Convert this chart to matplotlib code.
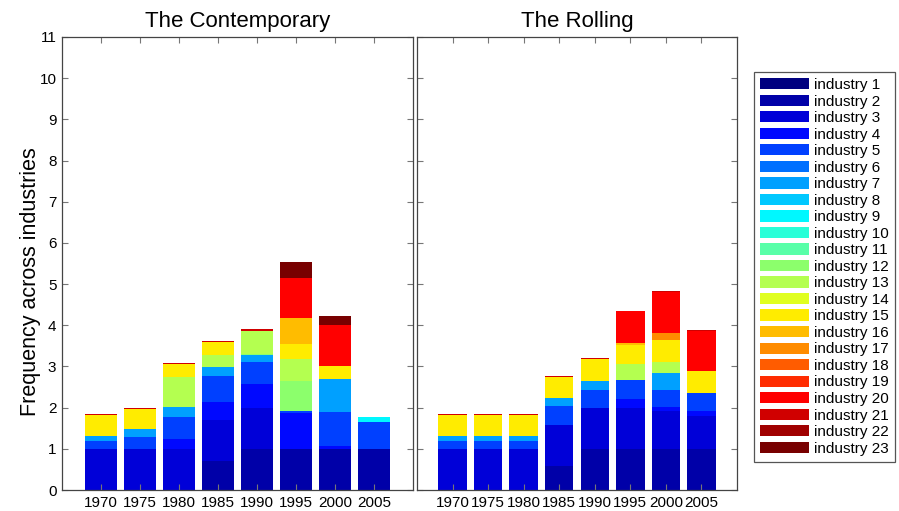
import numpy as np
import matplotlib
matplotlib.use('Agg')
import matplotlib.pyplot as plt
from matplotlib.patches import Patch

plt.rcParams['font.family'] = ['Liberation Sans', 'DejaVu Sans']

years = ['1970', '1975', '1980', '1985', '1990', '1995', '2000', '2005']
industries = ['industry %d' % i for i in range(1, 24)]

# rows = industry 1..23, columns = years
contemporary = [
    [0, 0, 0, 0, 0, 0, 0, 0],                          # 1
    [0, 0, 0, 0.70, 1.0, 1.0, 1.0, 1.0],               # 2
    [1.0, 1.0, 1.0, 1.0, 1.0, 0, 0, 0],                # 3
    [0, 0, 0.24, 0.43, 0.58, 0.87, 0.08, 0],           # 4
    [0.20, 0.28, 0.53, 0.63, 0.52, 0.05, 0.81, 0.64],  # 5
    [0, 0, 0, 0, 0, 0, 0, 0],                          # 6
    [0.10, 0.19, 0.25, 0.22, 0.19, 0, 0.80, 0],        # 7
    [0, 0, 0, 0, 0, 0, 0, 0],                          # 8
    [0, 0, 0, 0, 0, 0, 0, 0.14],                       # 9
    [0, 0, 0, 0, 0, 0, 0, 0],                          # 10
    [0, 0, 0, 0, 0, 0, 0, 0],                          # 11
    [0.02, 0, 0, 0, 0.02, 0.73, 0, 0],                 # 12
    [0, 0, 0.73, 0.31, 0.56, 0.53, 0, 0],              # 13
    [0, 0, 0, 0, 0, 0, 0, 0],                          # 14
    [0.50, 0.49, 0.31, 0.30, 0, 0.37, 0.31, 0],        # 15
    [0, 0, 0, 0, 0, 0.62, 0, 0],                       # 16
    [0, 0, 0, 0, 0, 0, 0, 0],                          # 17
    [0, 0, 0, 0, 0, 0, 0, 0],                          # 18
    [0, 0, 0, 0, 0, 0, 0, 0],                          # 19
    [0, 0, 0, 0, 0, 0.99, 1.0, 0],                     # 20
    [0.03, 0.03, 0.03, 0.03, 0.03, 0, 0, 0],           # 21
    [0, 0, 0, 0, 0, 0, 0, 0],                          # 22
    [0, 0, 0, 0, 0, 0.37, 0.23, 0],                    # 23
]

rolling = [
    [0, 0, 0, 0, 0, 0, 0, 0],                          # 1
    [0, 0, 0, 0.59, 1.0, 1.0, 1.0, 1.0],               # 2
    [1.0, 1.0, 1.0, 1.0, 1.0, 0.99, 0.91, 0.80],       # 3
    [0, 0, 0, 0, 0, 0.23, 0.10, 0.13],                 # 4
    [0.20, 0.20, 0.20, 0.44, 0.44, 0.46, 0.43, 0.43],  # 5
    [0, 0, 0, 0, 0, 0, 0, 0],                          # 6
    [0.10, 0.10, 0.10, 0.20, 0.21, 0, 0.41, 0],        # 7
    [0, 0, 0, 0, 0, 0, 0, 0],                          # 8
    [0, 0, 0, 0, 0, 0, 0, 0],                          # 9
    [0, 0, 0, 0, 0, 0, 0, 0],                          # 10
    [0, 0, 0, 0, 0, 0, 0, 0],                          # 11
    [0.02, 0.02, 0.02, 0, 0, 0, 0, 0],                 # 12
    [0, 0, 0, 0, 0, 0.39, 0.26, 0],                    # 13
    [0, 0, 0, 0, 0, 0, 0, 0],                          # 14
    [0.50, 0.49, 0.49, 0.51, 0.52, 0.46, 0.54, 0.53],  # 15
    [0, 0, 0, 0, 0, 0.05, 0, 0],                       # 16
    [0, 0, 0, 0, 0, 0, 0.16, 0],                       # 17
    [0, 0, 0, 0, 0, 0, 0, 0],                          # 18
    [0, 0, 0, 0, 0, 0, 0, 0],                          # 19
    [0, 0, 0, 0, 0, 0.76, 1.0, 0.98],                  # 20
    [0.03, 0.03, 0.03, 0.03, 0.03, 0, 0.02, 0.02],     # 21
    [0, 0, 0, 0, 0, 0, 0, 0],                          # 22
    [0, 0, 0, 0, 0, 0, 0, 0],                          # 23
]

# jet-like colours as seen in the legend
colors = ['#000080', '#0000a8', '#0000d8', '#0008ff', '#0040ff', '#0070ff',
          '#00a0ff', '#00c8ff', '#00f8ff', '#28ffd8', '#58ffa8', '#8cff6c',
          '#b4ff50', '#e0ff20', '#ffec00', '#ffbc00', '#ff8c00', '#ff5c00',
          '#ff2c00', '#ff0000', '#d00000', '#a00000', '#780000']

fig = plt.figure(figsize=(8.99, 5.11), dpi=100)
ax1 = fig.add_axes([62/899, 21/511, 351/899, 453/511])
ax2 = fig.add_axes([417/899, 21/511, 320/899, 453/511])

x = np.arange(1, len(years) + 1)

def draw_panel(ax, data, title):
    bottom = np.zeros(len(years))
    for i, row in enumerate(data):
        vals = np.array(row, dtype=float)
        ax.bar(x, vals, width=0.8, bottom=bottom, color=colors[i], linewidth=0)
        bottom += vals
    ax.set_xlim(0, 9)
    ax.set_ylim(0, 11)
    ax.set_xticks(x)
    ax.set_xticklabels(years)
    ax.set_yticks(range(0, 12))
    ax.tick_params(direction='in', length=4, color='#777777', top=True, right=True,
                   labelsize=11, pad=4)
    for s in ax.spines.values():
        s.set_color('#444444')
        s.set_linewidth(0.9)
    ax.set_title(title, fontsize=16, pad=7)

draw_panel(ax1, contemporary, 'The Contemporary')
draw_panel(ax2, rolling, 'The Rolling')
ax2.set_yticklabels([])
ax1.set_ylabel('Frequency across industries', fontsize=15.5)
ax1.yaxis.set_label_coords(-0.06, 0.46)

handles = [Patch(facecolor=colors[i], edgecolor='none') for i in range(len(industries))]
leg = fig.legend(handles, industries, loc='upper left',
                 bbox_to_anchor=(754/899, 1 - 72/511), borderaxespad=0,
                 fancybox=False, edgecolor='#555555', fontsize=11,
                 handlelength=3.2, handleheight=0.75, labelspacing=0.165,
                 handletextpad=0.35, borderpad=0.4, framealpha=1)
leg.get_frame().set_linewidth(0.9)

fig.savefig('out.png', dpi=100)
